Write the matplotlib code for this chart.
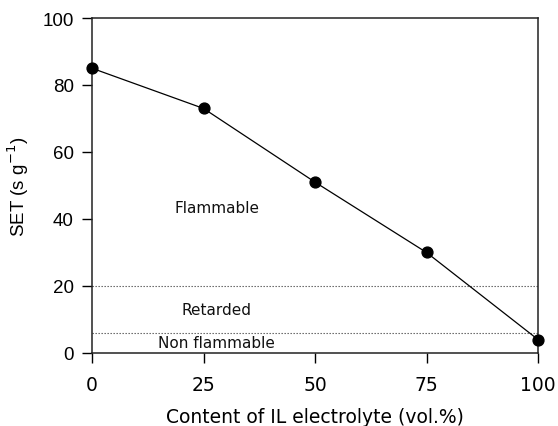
import matplotlib
matplotlib.use("Agg")
import matplotlib.pyplot as plt

# IL electrolyte content (vol.%) vs self-extinguishing time
content = [0, 25, 50, 75, 100]
set_values = [85, 73, 51, 30, 4]
x_ticks = [0, 25, 50, 75, 100]
y_ticks = [0, 20, 40, 60, 80, 100]
thresholds = [20, 6]
regions = ["Flammable", "Retarded", "Non flammable"]
region_y = [43.5, 13, 3]
region_x = 28

fig = plt.figure(figsize=(5.58, 4.27), dpi=100)
ax = fig.add_axes([0.1649, 0.171, 0.7993, 0.7845])

ax.plot(content, set_values, color="black", lw=0.9, marker="o",
        markersize=7.8, markerfacecolor="black", markeredgecolor="black",
        zorder=3, clip_on=False)
for t in thresholds:
    ax.axhline(t, color="#555555", lw=0.8, ls=(0, (1.2, 1.5)), zorder=1)

for label, yv in zip(regions, region_y):
    ax.text(region_x, yv, label, ha="center", va="center",
            fontsize=11, family="DejaVu Sans", color="#111111")

ax.set_xlim(0, 100)
ax.set_ylim(0, 100)
ax.set_xticks(x_ticks)
ax.set_yticks(y_ticks)
ax.set_xticklabels([str(v) for v in x_ticks], family="DejaVu Sans", fontsize=13.5)
ax.set_yticklabels([str(v) for v in y_ticks], family="Liberation Sans", fontsize=13.5)
ax.tick_params(axis="x", direction="out", length=7, width=1, pad=9)
ax.tick_params(axis="y", direction="out", length=7, width=1, pad=6)
for s in ax.spines.values():
    s.set_linewidth(1.1)
    s.set_color("#222222")

ax.set_xlabel("Content of IL electrolyte (vol.%)", family="DejaVu Sans",
              fontsize=13.5, labelpad=9)
ax.set_ylabel("SET (s g$^{-1}$)", family="Liberation Sans", fontsize=13.5,
              labelpad=8)

fig.savefig("out.png", dpi=100)
